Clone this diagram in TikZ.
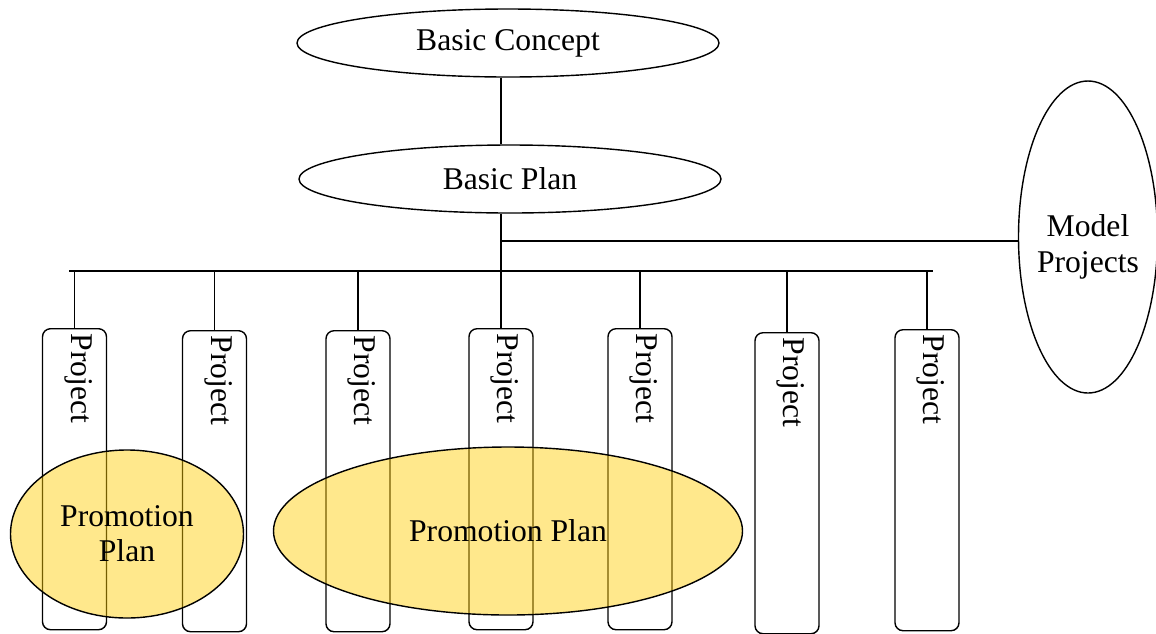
\documentclass[tikz,border=0pt]{standalone}
\usepackage{fontspec}
\setmainfont{Liberation Serif}
\usetikzlibrary{shapes.geometric}
\definecolor{promoyellow}{RGB}{255,204,0}

\tikzset{
  oval/.style={draw, ellipse, line width=0.8pt, inner sep=0pt, align=center,
    font=\fontsize{18}{20.5}\selectfont},
  projbox/.style={draw, rounded corners=0.16cm, line width=0.8pt, inner sep=0pt,
    minimum width=1.28cm, minimum height=6.02cm, anchor=north},
  projtext/.style={rotate=-90, anchor=west, inner sep=0pt,
    font=\fontsize{18}{20}\selectfont},
  promo/.style={oval, fill=promoyellow, fill opacity=0.45, text opacity=1,
    font=\fontsize{18}{20}\selectfont},
}

\begin{document}
\begin{tikzpicture}[line width=0.8pt]
\useasboundingbox (0,0) rectangle (23.12,-12.66);

% concept, plan and model projects
\node[oval, minimum width=8.44cm, minimum height=1.36cm] (concept) at (10.16,-0.86) {Basic Concept};
\node[oval, minimum width=8.44cm, minimum height=1.36cm] (plan) at (10.2,-3.58) {Basic Plan};
\node[oval, minimum width=2.78cm, minimum height=6.24cm] (model) at (21.76,-4.74) {};
\node[align=center, font=\fontsize{18}{20.5}\selectfont] (modeltext) at ([yshift=-0.2cm]model.center) {Model\\Projects};

\coordinate (barL) at (1.38,-5.42);
\coordinate (barR) at (18.66,-5.42);

% project boxes
\foreach \n/\x/\y in {1/1.49/6.56, 2/4.29/6.6, 3/7.16/6.6, 4/10.02/6.56, 5/12.8/6.56, 6/15.74/6.64, 7/18.54/6.58} {
  \node[projbox] (p\n) at (\x,-\y) {};
  \node[projtext] (t\n) at ([xshift=0.08cm, yshift=-0.1cm]p\n.north) {Project};
  \draw (p\n.north) -- (p\n.north |- barL);
}

\coordinate (tap) at (10.02,-4.82);

\draw (concept.south -| p4.north) -- (plan.north -| p4.north);
\draw (plan.south -| p4.north) -- (p4.north);
\draw (barL) -- (barR);
\draw (tap) -- (tap -| model.west);

% promotion plans
\node[promo, minimum width=4.66cm, minimum height=3.36cm] (promoA) at (2.54,-10.68) {Promotion\\Plan};
\node[promo, minimum width=9.38cm, minimum height=3.36cm] (promoB) at (10.16,-10.62) {Promotion Plan};
\end{tikzpicture}
\end{document}
